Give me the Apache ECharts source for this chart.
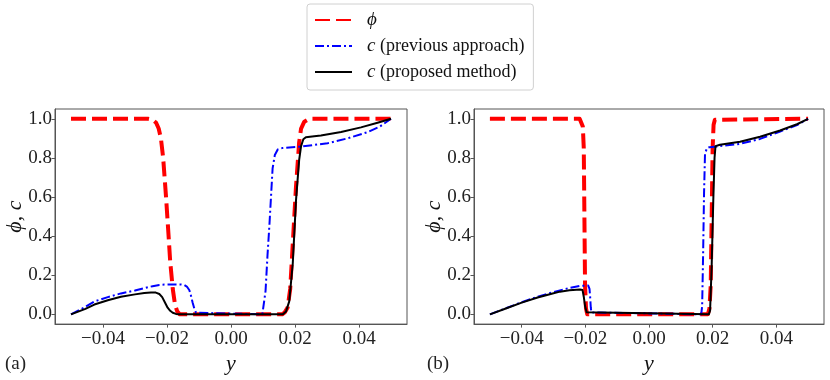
<!DOCTYPE html>
<html lang="en">
<head>
    <meta charset="UTF-8">
    <script src="https://cdn.jsdelivr.net/npm/echarts@6/dist/echarts.min.js"></script>
    <title>phi and c profiles</title>
</head>
<body style="margin:0">
<div id="main" style="width: 830px;height:380px;"></div>

<script type="text/javascript">
    // 数据 (a)
    var phiA_x = [-0.05, -0.026, -0.0245, -0.0234, -0.0226, -0.0219, -0.0212, -0.0203, -0.0195, -0.019, -0.0182, -0.0175, -0.0168, -0.016,
        0.016, 0.0168, 0.0177, 0.0185, 0.0193, 0.0203, 0.0213, 0.0219, 0.0229, 0.0245, 0.05];
    var phiA_y = [1, 1, 0.995, 0.98, 0.95, 0.9, 0.8, 0.6, 0.4, 0.27, 0.13, 0.05, 0.015, 0,
        0, 0.01, 0.035, 0.13, 0.36, 0.65, 0.88, 0.95, 0.985, 1, 1];

    var prevA_x = [-0.05, -0.0455, -0.0427, -0.0385, -0.0344, -0.030, -0.0271, -0.0245, -0.0224, -0.0208, -0.018, -0.0155,
        -0.0146, -0.0138, -0.013, -0.0125, -0.012, -0.0114, -0.0109, -0.0104,
        0.0098, 0.0102, 0.0108, 0.0114, 0.012, 0.0125, 0.013, 0.0137, 0.0146, 0.016, 0.0213, 0.024, 0.0302, 0.0365, 0.0427, 0.0465, 0.05];
    var prevA_y = [0, 0.038, 0.066, 0.088, 0.107, 0.122, 0.134, 0.144, 0.15, 0.152, 0.153, 0.152,
        0.15, 0.142, 0.123, 0.095, 0.06, 0.025, 0.008, 0,
        0, 0.01, 0.12, 0.3, 0.455, 0.6, 0.746, 0.815, 0.843, 0.85, 0.857, 0.862, 0.875, 0.9, 0.932, 0.96, 1.0];

    var propA_x = [-0.05, -0.0455, -0.0427, -0.0385, -0.0344, -0.030, -0.0271, -0.025, -0.0235, -0.0224, -0.0215, -0.0208, -0.0198, -0.019, -0.0182, -0.0172, -0.0162,
        0.0162, 0.0172, 0.0182, 0.0193, 0.0203, 0.0213, 0.0219, 0.0226, 0.0234, 0.026, 0.0281, 0.0344, 0.0406, 0.0458, 0.05];
    var propA_y = [0, 0.028, 0.05, 0.072, 0.09, 0.102, 0.109, 0.112, 0.111, 0.104, 0.088, 0.066, 0.034, 0.018, 0.008, 0.002, 0,
        0, 0.015, 0.066, 0.26, 0.58, 0.79, 0.86, 0.895, 0.906, 0.911, 0.914, 0.932, 0.956, 0.98, 1.0];

    // 数据 (b)
    var phiB_x = [-0.05, -0.0218, -0.0212, -0.0208, -0.0205, -0.0203, -0.0201, -0.0198, -0.0194,
        0.0185, 0.019, 0.0194, 0.0197, 0.02, 0.0203, 0.0207, 0.0213, 0.05];
    var phiB_y = [1, 1, 0.99, 0.96, 0.85, 0.5, 0.15, 0.03, 0,
        0, 0.03, 0.15, 0.5, 0.85, 0.97, 0.995, 1, 1];

    var prevB_x = [-0.05, -0.045, -0.04, -0.035, -0.03, -0.025, -0.0217, -0.0191, -0.0187, -0.0185, -0.0183, -0.0181, -0.0178,
        0.0164, 0.0167, 0.017, 0.0173, 0.0176, 0.0182, 0.019, 0.0223, 0.0286, 0.0349, 0.0412, 0.0465, 0.05];
    var prevB_y = [0, 0.031, 0.062, 0.09, 0.114, 0.135, 0.146, 0.147, 0.13, 0.09, 0.035, 0.01, 0,
        0, 0.04, 0.3, 0.62, 0.82, 0.85, 0.855, 0.86, 0.872, 0.897, 0.935, 0.968, 1.0];

    var propB_x = [-0.05, -0.045, -0.04, -0.035, -0.03, -0.028, -0.025, -0.0217, -0.0209, -0.0205, -0.0201, -0.0196, -0.019,
        0.0188, 0.0192, 0.0197, 0.0202, 0.0206, 0.0209, 0.0223, 0.0286, 0.0349, 0.0412, 0.0465, 0.05];
    var propB_y = [0, 0.03, 0.06, 0.086, 0.108, 0.116, 0.123, 0.127, 0.125, 0.09, 0.042, 0.01, 0,
        0, 0.02, 0.25, 0.58, 0.8, 0.86, 0.867, 0.883, 0.908, 0.94, 0.972, 1.0];

    // 刻度
    var xTicks = [-0.04, -0.02, 0, 0.02, 0.04];
    var yTicks = [0, 0.2, 0.4, 0.6, 0.8, 1.0];

    var NAME_PHI = 'ϕ';
    var NAME_PREV = 'c (previous approach)';
    var NAME_PROP = 'c (proposed method)';

    function pairs(xs, ys) {
        return xs.map(function (x, i) { return [x, ys[i]]; });
    }

    var serif = '"Liberation Serif", "DejaVu Serif", serif';
    var frameColor = '#555';

    function xAxisFor(idx) {
        return {
            type: 'value', gridIndex: idx, min: -0.055, max: 0.055,
            name: 'y', nameLocation: 'middle', nameGap: 8,
            nameTextStyle: {fontFamily: serif, fontStyle: 'italic', fontSize: 22, color: '#111'},
            splitLine: {show: false},
            axisLine: {show: true, onZero: false, lineStyle: {color: frameColor, width: 1}},
            axisTick: {show: true, length: 3.5, lineStyle: {color: frameColor}, customValues: xTicks},
            axisLabel: {
                fontFamily: serif, fontSize: 19, color: '#222', margin: 5,
                customValues: xTicks,
                formatter: function (v) { return (v < 0 ? '−' : '') + Math.abs(v).toFixed(2); }
            }
        };
    }

    function yAxisFor(idx) {
        return {
            type: 'value', gridIndex: idx, min: -0.05, max: 1.05,
            name: '{i|ϕ}, {i|c}', nameLocation: 'middle', nameGap: 29, nameRotate: 90,
            nameMoveOverlap: false,
            nameTextStyle: {
                fontFamily: serif, fontSize: 22, color: '#111',
                rich: {i: {fontFamily: serif, fontStyle: 'italic', fontSize: 22, color: '#111'}}
            },
            splitLine: {show: false},
            axisLine: {show: true, onZero: false, lineStyle: {color: frameColor, width: 1}},
            axisTick: {show: true, length: 3.5, lineStyle: {color: frameColor}, customValues: yTicks},
            axisLabel: {
                fontFamily: serif, fontSize: 19, color: '#222', margin: 3,
                customValues: yTicks,
                formatter: function (v) { return v.toFixed(1); }
            }
        };
    }

    function seriesFor(idx, phiX, phiY, prevX, prevY, propX, propY) {
        return [
            {
                name: NAME_PHI, type: 'line', xAxisIndex: idx, yAxisIndex: idx,
                symbol: 'none', data: pairs(phiX, phiY),
                lineStyle: {color: '#ff0000', width: 4, type: [15, 6], join: 'round'}
            },
            {
                name: NAME_PREV, type: 'line', xAxisIndex: idx, yAxisIndex: idx,
                symbol: 'none', data: pairs(prevX, prevY),
                lineStyle: {color: '#0000ff', width: 2, type: [9, 3, 2, 3], join: 'round'}
            },
            {
                name: NAME_PROP, type: 'line', xAxisIndex: idx, yAxisIndex: idx,
                symbol: 'none', data: pairs(propX, propY),
                lineStyle: {color: '#000000', width: 2, type: 'solid', join: 'round'}
            }
        ];
    }

    var myChart = echarts.init(document.getElementById('main'));

    var option = {
        animation: false,
        backgroundColor: '#ffffff',
        color: ['#ff0000', '#0000ff', '#000000'],
        legend: {
            data: [NAME_PHI, NAME_PREV, NAME_PROP],
            orient: 'vertical',
            left: 307, top: 4,
            padding: [6, 9, 8, 7],
            itemWidth: 37, itemHeight: 14, itemGap: 6,
            backgroundColor: '#ffffff',
            borderColor: '#d0d0d0', borderWidth: 1, borderRadius: 3,
            itemStyle: {opacity: 0},
            textStyle: {fontFamily: serif, fontSize: 18, color: '#111', lineHeight: 20, padding: [0, 0, 0, 10],
                rich: {i: {fontFamily: serif, fontStyle: 'italic', fontSize: 19, color: '#111'}}},
            formatter: function (name) {
                if (name === NAME_PHI) return '{i|ϕ}';
                return '{i|c} ' + name.slice(2);
            }
        },
        grid: [
            {left: 55, right: 423, top: 109, bottom: 44, show: true, borderColor: frameColor, borderWidth: 1, backgroundColor: 'transparent'},
            {left: 474, right: 6, top: 109, bottom: 44, show: true, borderColor: frameColor, borderWidth: 1, backgroundColor: 'transparent'}
        ],
        xAxis: [xAxisFor(0), xAxisFor(1)],
        yAxis: [yAxisFor(0), yAxisFor(1)],
        series: seriesFor(0, phiA_x, phiA_y, prevA_x, prevA_y, propA_x, propA_y)
            .concat(seriesFor(1, phiB_x, phiB_y, prevB_x, prevB_y, propB_x, propB_y)),
        graphic: [
            {type: 'text', left: 5, top: 355, style: {text: '(a)', font: '19px ' + serif, fill: '#222'}},
            {type: 'text', left: 427, top: 355, style: {text: '(b)', font: '19px ' + serif, fill: '#222'}}
        ]
    };

    myChart.setOption(option);
</script>
</body>
</html>
